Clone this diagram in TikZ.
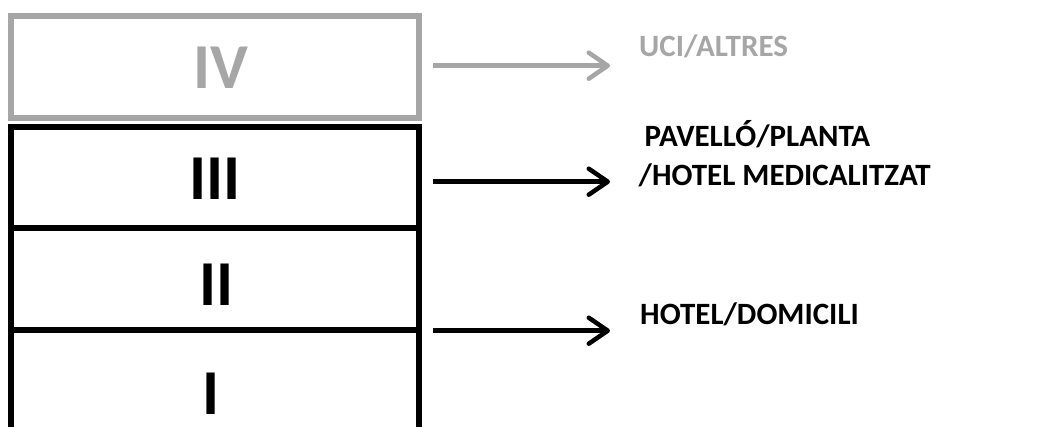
\documentclass[tikz,border=0pt]{standalone}
\usepackage{fontspec}
\setmainfont{Carlito}
\usetikzlibrary{arrows.meta}
\definecolor{lgray}{HTML}{A6A6A6}
\begin{document}
\begin{tikzpicture}[x=1pt,y=-1pt,
  box/.style={draw, line width=6pt, minimum width=408pt, inner sep=0pt, outer sep=0pt},
  roman/.style={font=\fontsize{64}{64}\bfseries\selectfont, anchor=base, inner sep=0pt},
  lab/.style={font=\fontsize{31}{39.6}\bfseries\selectfont, anchor=base west, inner sep=0pt, align=left},
  arr/.style={line width=4.5pt, -{Straight Barb[length=19pt,width=26pt,round]}}]
\useasboundingbox (0,0) rectangle (1042,427);
% boxes
\node[box, draw=lgray, minimum height=102pt] (b4) at (215,67) {};
\node[box, minimum height=101.5pt] (b3) at (215,177.75) {};
\node[box, minimum height=102pt] (b2) at (215,279.5) {};
\coordinate (b1l) at (11,430);
\coordinate (b1r) at (419,430);
\draw[line width=6pt] (b2.south west) -- (b1l);
\draw[line width=6pt] (b2.south east) -- (b1r);
% roman numerals
\node[roman, text=lgray] (n4) at (221,88.3) {IV};
\node[roman] (n3) at (215,199.3) {III};
\node[roman] (n2) at (216.5,306) {II};
\node[roman] (n1) at (211.5,414.5) {I};
% arrows
\coordinate (a4s) at (433,65.7);
\coordinate (a4e) at (610,65.7);
\coordinate (a3s) at (433,181.7);
\coordinate (a3e) at (610,181.7);
\coordinate (a2s) at (433,330.7);
\coordinate (a2e) at (610,330.7);
\draw[arr, draw=lgray] (a4s) -- (a4e);
\draw[arr] (a3s) -- (a3e);
\draw[arr] (a2s) -- (a2e);
% labels
\node[lab, text=lgray] (t4) at (639,56.7) {UCI/ALTRES};
\node[lab] (t3) at (638.5,185.7) {\hspace*{6pt}PAVELLÓ/PLANTA\\/HOTEL MEDICALITZAT};
\node[lab] (t2) at (640,325) {HOTEL/DOMICILI};
\end{tikzpicture}
\end{document}
